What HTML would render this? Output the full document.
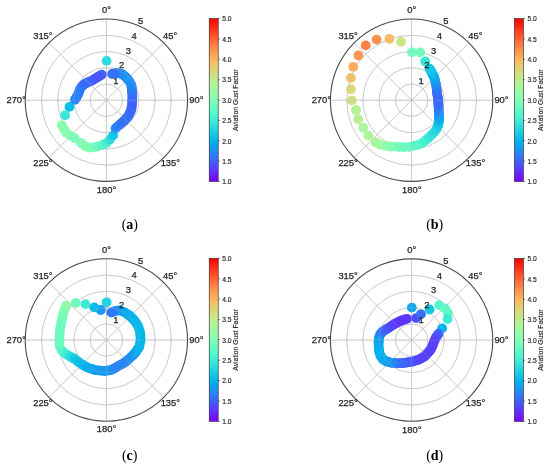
<!DOCTYPE html>
<html><head><meta charset="utf-8"><style>
html,body{margin:0;padding:0;background:#fff;}
text{-webkit-font-smoothing:antialiased;}
svg{display:block;will-change:transform;}
.g{fill:none;stroke:#c8c8c8;stroke-width:0.8;}
.g2{fill:none;stroke:#b8b8b8;stroke-width:0.8;opacity:0.35;}
.o{fill:none;stroke:#4a4a4a;stroke-width:1.1;}
.t{font-family:"Liberation Sans",sans-serif;font-size:9.4px;fill:#222;stroke:#222;stroke-width:0.25;}
.s{font-family:"Liberation Sans",sans-serif;font-size:6.7px;fill:#222;stroke:#222;stroke-width:0.15;}
.lab{font-family:"Liberation Sans",sans-serif;font-size:6.8px;fill:#222;stroke:#222;stroke-width:0.15;}
.cap{font-family:"Liberation Serif",serif;font-size:14px;fill:#000;}
</style></head><body>
<svg width="550" height="467" viewBox="0 0 550 467">
<rect width="550" height="467" fill="#fff"/>
<circle cx="106.4" cy="100.2" r="16.24" class="g"/>
<circle cx="106.4" cy="100.2" r="32.48" class="g"/>
<circle cx="106.4" cy="100.2" r="48.72" class="g"/>
<circle cx="106.4" cy="100.2" r="64.96" class="g"/>
<line x1="106.4" y1="100.2" x2="106.4" y2="19" class="g"/>
<line x1="106.4" y1="100.2" x2="163.82" y2="42.78" class="g"/>
<line x1="106.4" y1="100.2" x2="187.6" y2="100.2" class="g"/>
<line x1="106.4" y1="100.2" x2="163.82" y2="157.62" class="g"/>
<line x1="106.4" y1="100.2" x2="106.4" y2="181.4" class="g"/>
<line x1="106.4" y1="100.2" x2="48.98" y2="157.62" class="g"/>
<line x1="106.4" y1="100.2" x2="25.2" y2="100.2" class="g"/>
<line x1="106.4" y1="100.2" x2="48.98" y2="42.78" class="g"/>
<circle cx="106.6" cy="60.9" r="4.9" fill="#2bdddd"/>
<circle cx="101.8" cy="74.6" r="4.9" fill="#3d66fa"/>
<circle cx="100.37" cy="75.47" r="4.9" fill="#415ffa"/>
<circle cx="98.93" cy="76.33" r="4.9" fill="#455afb"/>
<circle cx="97.5" cy="77.2" r="4.9" fill="#4856fb"/>
<circle cx="95.67" cy="78.33" r="4.9" fill="#4a53fc"/>
<circle cx="93.83" cy="79.47" r="4.9" fill="#4b51fc"/>
<circle cx="92" cy="80.6" r="4.9" fill="#4a52fc"/>
<circle cx="90" cy="81.45" r="4.9" fill="#4659fb"/>
<circle cx="88" cy="82.3" r="4.9" fill="#4062fa"/>
<circle cx="86.15" cy="83.25" r="4.9" fill="#3a6af9"/>
<circle cx="84.3" cy="84.2" r="4.9" fill="#3374f8"/>
<circle cx="82.95" cy="85.4" r="4.9" fill="#3d65fa"/>
<circle cx="81.6" cy="86.6" r="4.9" fill="#386df9"/>
<circle cx="80" cy="89" r="4.9" fill="#3374f8"/>
<circle cx="79.3" cy="91.1" r="4.9" fill="#3077f7"/>
<circle cx="78.6" cy="93.2" r="4.9" fill="#2e7bf7"/>
<circle cx="77.6" cy="95.1" r="4.9" fill="#2b7ef6"/>
<circle cx="76.6" cy="97" r="4.9" fill="#2982f6"/>
<circle cx="75.75" cy="98.4" r="4.9" fill="#2982f6"/>
<circle cx="74.9" cy="99.8" r="4.9" fill="#2982f6"/>
<circle cx="69.5" cy="106.9" r="4.9" fill="#0abfe8"/>
<circle cx="65.1" cy="115.3" r="4.9" fill="#38e7d7"/>
<circle cx="61.8" cy="125.3" r="4.9" fill="#89ffaf"/>
<circle cx="64" cy="129" r="4.9" fill="#89ffaf"/>
<circle cx="66.3" cy="132.7" r="4.9" fill="#8cfead"/>
<circle cx="70.5" cy="135.6" r="4.9" fill="#83ffb3"/>
<circle cx="74.8" cy="138.2" r="4.9" fill="#7bffb7"/>
<circle cx="80.9" cy="143" r="4.9" fill="#7effb5"/>
<circle cx="85" cy="146" r="4.9" fill="#84ffb2"/>
<circle cx="89.1" cy="147.6" r="4.9" fill="#83ffb2"/>
<circle cx="93.5" cy="147.3" r="4.9" fill="#76ffb9"/>
<circle cx="97.8" cy="146.4" r="4.9" fill="#68fcc1"/>
<circle cx="102.2" cy="145" r="4.9" fill="#58f8c9"/>
<circle cx="106.4" cy="143.1" r="4.9" fill="#48f0d1"/>
<circle cx="110" cy="139.5" r="4.9" fill="#2ddedc"/>
<circle cx="113.2" cy="135.4" r="4.9" fill="#10c5e6"/>
<circle cx="115.6" cy="128.2" r="4.9" fill="#228bf4"/>
<circle cx="117.5" cy="126.6" r="4.9" fill="#2882f6"/>
<circle cx="119.4" cy="125" r="4.9" fill="#2d7cf7"/>
<circle cx="121" cy="123.57" r="4.9" fill="#3177f8"/>
<circle cx="122.6" cy="122.13" r="4.9" fill="#3374f8"/>
<circle cx="124.2" cy="120.7" r="4.9" fill="#3472f8"/>
<circle cx="125.5" cy="119.27" r="4.9" fill="#3571f8"/>
<circle cx="126.8" cy="117.83" r="4.9" fill="#3670f8"/>
<circle cx="128.1" cy="116.4" r="4.9" fill="#3572f8"/>
<circle cx="129.07" cy="114.47" r="4.9" fill="#376ef9"/>
<circle cx="130.03" cy="112.53" r="4.9" fill="#386df9"/>
<circle cx="131" cy="110.6" r="4.9" fill="#386df9"/>
<circle cx="131.37" cy="108.37" r="4.9" fill="#3b68f9"/>
<circle cx="131.73" cy="106.13" r="4.9" fill="#3d66fa"/>
<circle cx="132.1" cy="103.9" r="4.9" fill="#3d65fa"/>
<circle cx="132.2" cy="101.6" r="4.9" fill="#3e64fa"/>
<circle cx="132.3" cy="99.3" r="4.9" fill="#3e64fa"/>
<circle cx="132.4" cy="97" r="4.9" fill="#3c68f9"/>
<circle cx="132.3" cy="95" r="4.9" fill="#3a6af9"/>
<circle cx="132.2" cy="93" r="4.9" fill="#376ef9"/>
<circle cx="132.1" cy="91" r="4.9" fill="#3374f8"/>
<circle cx="131.9" cy="89.27" r="4.9" fill="#2f79f7"/>
<circle cx="131.7" cy="87.53" r="4.9" fill="#2b7ff6"/>
<circle cx="131.5" cy="85.8" r="4.9" fill="#2686f5"/>
<circle cx="130.5" cy="83.6" r="4.9" fill="#2389f5"/>
<circle cx="129.5" cy="81.4" r="4.9" fill="#1f8ef4"/>
<circle cx="128.33" cy="80" r="4.9" fill="#1f8ff4"/>
<circle cx="127.17" cy="78.6" r="4.9" fill="#1e90f4"/>
<circle cx="126" cy="77.2" r="4.9" fill="#1c93f3"/>
<circle cx="124.3" cy="75.85" r="4.9" fill="#1c93f3"/>
<circle cx="122.6" cy="74.5" r="4.9" fill="#1b94f3"/>
<circle cx="120.8" cy="73.9" r="4.9" fill="#1e90f4"/>
<circle cx="119" cy="73.3" r="4.9" fill="#208ef4"/>
<circle cx="117.15" cy="73.2" r="4.9" fill="#2587f5"/>
<circle cx="115.3" cy="73.1" r="4.9" fill="#2981f6"/>
<circle cx="113.7" cy="73.55" r="4.9" fill="#3078f7"/>
<circle cx="112.1" cy="74" r="4.9" fill="#376ff9"/>
<circle cx="106.4" cy="100.2" r="16.24" class="g2"/>
<circle cx="106.4" cy="100.2" r="32.48" class="g2"/>
<circle cx="106.4" cy="100.2" r="48.72" class="g2"/>
<circle cx="106.4" cy="100.2" r="64.96" class="g2"/>
<line x1="106.4" y1="100.2" x2="106.4" y2="19" class="g2"/>
<line x1="106.4" y1="100.2" x2="163.82" y2="42.78" class="g2"/>
<line x1="106.4" y1="100.2" x2="187.6" y2="100.2" class="g2"/>
<line x1="106.4" y1="100.2" x2="163.82" y2="157.62" class="g2"/>
<line x1="106.4" y1="100.2" x2="106.4" y2="181.4" class="g2"/>
<line x1="106.4" y1="100.2" x2="48.98" y2="157.62" class="g2"/>
<line x1="106.4" y1="100.2" x2="25.2" y2="100.2" class="g2"/>
<line x1="106.4" y1="100.2" x2="48.98" y2="42.78" class="g2"/>
<circle cx="106.4" cy="100.2" r="81.2" class="o"/>
<text x="106.5" y="12.72" class="t" text-anchor="middle">0°</text>
<text x="170.1" y="39.47" class="t" text-anchor="middle">45°</text>
<text x="196.3" y="102.72" class="t" text-anchor="middle">90°</text>
<text x="170.35" y="166.27" class="t" text-anchor="middle">135°</text>
<text x="106.5" y="192.67" class="t" text-anchor="middle">180°</text>
<text x="42.9" y="166.07" class="t" text-anchor="middle">225°</text>
<text x="16.15" y="102.72" class="t" text-anchor="middle">270°</text>
<text x="42.9" y="39.02" class="t" text-anchor="middle">315°</text>
<text x="115.8" y="83.57" class="t" text-anchor="middle">1</text>
<text x="121.7" y="68.47" class="t" text-anchor="middle">2</text>
<text x="128.3" y="53.57" class="t" text-anchor="middle">3</text>
<text x="134.2" y="38.67" class="t" text-anchor="middle">4</text>
<text x="140.6" y="23.97" class="t" text-anchor="middle">5</text>
<defs><linearGradient id="cba" x1="0" y1="0" x2="0" y2="1"><stop offset="0" stop-color="#ff0000"/><stop offset="0.05" stop-color="#ff2814"/><stop offset="0.1" stop-color="#ff4f28"/><stop offset="0.15" stop-color="#ff743c"/><stop offset="0.2" stop-color="#ff964f"/><stop offset="0.25" stop-color="#ffb462"/><stop offset="0.3" stop-color="#e5ce74"/><stop offset="0.35" stop-color="#cce385"/><stop offset="0.4" stop-color="#b2f396"/><stop offset="0.45" stop-color="#99fca6"/><stop offset="0.5" stop-color="#80ffb4"/><stop offset="0.55" stop-color="#66fcc2"/><stop offset="0.6" stop-color="#4df3ce"/><stop offset="0.65" stop-color="#33e3d9"/><stop offset="0.7" stop-color="#1acee3"/><stop offset="0.75" stop-color="#00b4ec"/><stop offset="0.8" stop-color="#1a96f3"/><stop offset="0.85" stop-color="#3374f8"/><stop offset="0.9" stop-color="#4d4ffc"/><stop offset="0.95" stop-color="#6628fe"/><stop offset="1" stop-color="#8000ff"/></linearGradient></defs>
<rect x="209.2" y="18.6" width="9" height="162.9" fill="url(#cba)" stroke="#222" stroke-width="0.6"/>
<line x1="218.2" y1="181.5" x2="219.8" y2="181.5" stroke="#222" stroke-width="0.6"/>
<text x="222.2" y="184.3" class="s">1.0</text>
<line x1="218.2" y1="161.14" x2="219.8" y2="161.14" stroke="#222" stroke-width="0.6"/>
<text x="222.2" y="163.94" class="s">1.5</text>
<line x1="218.2" y1="140.78" x2="219.8" y2="140.78" stroke="#222" stroke-width="0.6"/>
<text x="222.2" y="143.57" class="s">2.0</text>
<line x1="218.2" y1="120.41" x2="219.8" y2="120.41" stroke="#222" stroke-width="0.6"/>
<text x="222.2" y="123.21" class="s">2.5</text>
<line x1="218.2" y1="100.05" x2="219.8" y2="100.05" stroke="#222" stroke-width="0.6"/>
<text x="222.2" y="102.85" class="s">3.0</text>
<line x1="218.2" y1="79.69" x2="219.8" y2="79.69" stroke="#222" stroke-width="0.6"/>
<text x="222.2" y="82.49" class="s">3.5</text>
<line x1="218.2" y1="59.32" x2="219.8" y2="59.32" stroke="#222" stroke-width="0.6"/>
<text x="222.2" y="62.12" class="s">4.0</text>
<line x1="218.2" y1="38.96" x2="219.8" y2="38.96" stroke="#222" stroke-width="0.6"/>
<text x="222.2" y="41.76" class="s">4.5</text>
<line x1="218.2" y1="18.6" x2="219.8" y2="18.6" stroke="#222" stroke-width="0.6"/>
<text x="222.2" y="21.4" class="s">5.0</text>
<text x="0" y="0" class="lab" text-anchor="middle" transform="translate(237.7,100.2) rotate(-90)">Aviation Gust Factor</text>
<circle cx="411.6" cy="100.2" r="16.24" class="g"/>
<circle cx="411.6" cy="100.2" r="32.48" class="g"/>
<circle cx="411.6" cy="100.2" r="48.72" class="g"/>
<circle cx="411.6" cy="100.2" r="64.96" class="g"/>
<line x1="411.6" y1="100.2" x2="411.6" y2="19" class="g"/>
<line x1="411.6" y1="100.2" x2="469.02" y2="42.78" class="g"/>
<line x1="411.6" y1="100.2" x2="492.8" y2="100.2" class="g"/>
<line x1="411.6" y1="100.2" x2="469.02" y2="157.62" class="g"/>
<line x1="411.6" y1="100.2" x2="411.6" y2="181.4" class="g"/>
<line x1="411.6" y1="100.2" x2="354.18" y2="157.62" class="g"/>
<line x1="411.6" y1="100.2" x2="330.4" y2="100.2" class="g"/>
<line x1="411.6" y1="100.2" x2="354.18" y2="42.78" class="g"/>
<circle cx="401" cy="41.9" r="4.9" fill="#c8e688"/>
<circle cx="389.4" cy="38.8" r="4.9" fill="#f7bd67"/>
<circle cx="376.6" cy="39.6" r="4.9" fill="#ff914c"/>
<circle cx="365.7" cy="45.4" r="4.9" fill="#ff8243"/>
<circle cx="358.4" cy="55.5" r="4.9" fill="#ff964f"/>
<circle cx="353.3" cy="66.8" r="4.9" fill="#ffac5c"/>
<circle cx="350.9" cy="77.9" r="4.9" fill="#f2c26b"/>
<circle cx="350.9" cy="89.2" r="4.9" fill="#dbd77b"/>
<circle cx="351.8" cy="100.4" r="4.9" fill="#cce385"/>
<circle cx="356" cy="110" r="4.9" fill="#b2f396"/>
<circle cx="358.2" cy="119.2" r="4.9" fill="#b4f295"/>
<circle cx="363.3" cy="127.8" r="4.9" fill="#acf69a"/>
<circle cx="368.3" cy="135.6" r="4.9" fill="#aef599"/>
<circle cx="375.5" cy="142.2" r="4.9" fill="#aaf69b"/>
<circle cx="380" cy="144.5" r="4.9" fill="#a2f9a0"/>
<circle cx="385" cy="145.9" r="4.9" fill="#96fda7"/>
<circle cx="390" cy="146.5" r="4.9" fill="#88ffb0"/>
<circle cx="394.6" cy="146.6" r="4.9" fill="#7bffb7"/>
<circle cx="399.5" cy="147" r="4.9" fill="#72febb"/>
<circle cx="404.1" cy="147.2" r="4.9" fill="#6cfdbf"/>
<circle cx="409" cy="146.8" r="4.9" fill="#65fcc2"/>
<circle cx="413.7" cy="145.9" r="4.9" fill="#5efac6"/>
<circle cx="418" cy="144.8" r="4.9" fill="#59f8c9"/>
<circle cx="421.8" cy="143.2" r="4.9" fill="#52f5cc"/>
<circle cx="425.5" cy="140.5" r="4.9" fill="#45efd1"/>
<circle cx="428.7" cy="137.7" r="4.9" fill="#3ae8d6"/>
<circle cx="431.5" cy="135" r="4.9" fill="#32e2da"/>
<circle cx="434.1" cy="132.3" r="4.9" fill="#2bdddd"/>
<circle cx="436.5" cy="129" r="4.9" fill="#22d6e0"/>
<circle cx="438.2" cy="125.5" r="4.9" fill="#17cce4"/>
<circle cx="438.47" cy="123.67" r="4.9" fill="#0fc4e7"/>
<circle cx="438.73" cy="121.83" r="4.9" fill="#07bce9"/>
<circle cx="439" cy="120" r="4.9" fill="#00b5ec"/>
<circle cx="439" cy="117.83" r="4.9" fill="#09aaee"/>
<circle cx="439" cy="115.67" r="4.9" fill="#129ff1"/>
<circle cx="439" cy="113.5" r="4.9" fill="#1a95f3"/>
<circle cx="438.88" cy="111.62" r="4.9" fill="#218cf4"/>
<circle cx="438.75" cy="109.75" r="4.9" fill="#2784f6"/>
<circle cx="438.62" cy="107.88" r="4.9" fill="#2d7df7"/>
<circle cx="438.5" cy="106" r="4.9" fill="#3176f8"/>
<circle cx="438.36" cy="104.2" r="4.9" fill="#3571f8"/>
<circle cx="438.22" cy="102.4" r="4.9" fill="#376df9"/>
<circle cx="438.08" cy="100.6" r="4.9" fill="#396bf9"/>
<circle cx="437.94" cy="98.8" r="4.9" fill="#3a6af9"/>
<circle cx="437.8" cy="97" r="4.9" fill="#3a6af9"/>
<circle cx="437.1" cy="94.3" r="4.9" fill="#3c67f9"/>
<circle cx="436.9" cy="92.15" r="4.9" fill="#396cf9"/>
<circle cx="436.7" cy="90" r="4.9" fill="#3472f8"/>
<circle cx="436.5" cy="87.85" r="4.9" fill="#2f79f7"/>
<circle cx="436.3" cy="85.7" r="4.9" fill="#2882f6"/>
<circle cx="435.77" cy="83.55" r="4.9" fill="#238af5"/>
<circle cx="435.25" cy="81.4" r="4.9" fill="#1c93f3"/>
<circle cx="434.73" cy="79.25" r="4.9" fill="#149df1"/>
<circle cx="434.2" cy="77.1" r="4.9" fill="#0ba7ef"/>
<circle cx="433.28" cy="75.4" r="4.9" fill="#07adee"/>
<circle cx="432.36" cy="73.7" r="4.9" fill="#01b3ec"/>
<circle cx="431.44" cy="72" r="4.9" fill="#06baea"/>
<circle cx="430.52" cy="70.3" r="4.9" fill="#0dc2e8"/>
<circle cx="429.6" cy="68.6" r="4.9" fill="#14c9e5"/>
<circle cx="425.2" cy="61.5" r="4.9" fill="#39e7d7"/>
<circle cx="420.2" cy="52.4" r="4.9" fill="#74febb"/>
<circle cx="412" cy="52.3" r="4.9" fill="#6ffebd"/>
<circle cx="411.6" cy="100.2" r="16.24" class="g2"/>
<circle cx="411.6" cy="100.2" r="32.48" class="g2"/>
<circle cx="411.6" cy="100.2" r="48.72" class="g2"/>
<circle cx="411.6" cy="100.2" r="64.96" class="g2"/>
<line x1="411.6" y1="100.2" x2="411.6" y2="19" class="g2"/>
<line x1="411.6" y1="100.2" x2="469.02" y2="42.78" class="g2"/>
<line x1="411.6" y1="100.2" x2="492.8" y2="100.2" class="g2"/>
<line x1="411.6" y1="100.2" x2="469.02" y2="157.62" class="g2"/>
<line x1="411.6" y1="100.2" x2="411.6" y2="181.4" class="g2"/>
<line x1="411.6" y1="100.2" x2="354.18" y2="157.62" class="g2"/>
<line x1="411.6" y1="100.2" x2="330.4" y2="100.2" class="g2"/>
<line x1="411.6" y1="100.2" x2="354.18" y2="42.78" class="g2"/>
<circle cx="411.6" cy="100.2" r="81.2" class="o"/>
<text x="411.7" y="12.72" class="t" text-anchor="middle">0°</text>
<text x="475.3" y="39.47" class="t" text-anchor="middle">45°</text>
<text x="501.5" y="102.72" class="t" text-anchor="middle">90°</text>
<text x="475.55" y="166.27" class="t" text-anchor="middle">135°</text>
<text x="411.7" y="192.67" class="t" text-anchor="middle">180°</text>
<text x="348.1" y="166.07" class="t" text-anchor="middle">225°</text>
<text x="321.35" y="102.72" class="t" text-anchor="middle">270°</text>
<text x="348.1" y="39.02" class="t" text-anchor="middle">315°</text>
<text x="421" y="83.57" class="t" text-anchor="middle">1</text>
<text x="426.9" y="68.47" class="t" text-anchor="middle">2</text>
<text x="433.5" y="53.57" class="t" text-anchor="middle">3</text>
<text x="439.4" y="38.67" class="t" text-anchor="middle">4</text>
<text x="445.8" y="23.97" class="t" text-anchor="middle">5</text>
<defs><linearGradient id="cbb" x1="0" y1="0" x2="0" y2="1"><stop offset="0" stop-color="#ff0000"/><stop offset="0.05" stop-color="#ff2814"/><stop offset="0.1" stop-color="#ff4f28"/><stop offset="0.15" stop-color="#ff743c"/><stop offset="0.2" stop-color="#ff964f"/><stop offset="0.25" stop-color="#ffb462"/><stop offset="0.3" stop-color="#e5ce74"/><stop offset="0.35" stop-color="#cce385"/><stop offset="0.4" stop-color="#b2f396"/><stop offset="0.45" stop-color="#99fca6"/><stop offset="0.5" stop-color="#80ffb4"/><stop offset="0.55" stop-color="#66fcc2"/><stop offset="0.6" stop-color="#4df3ce"/><stop offset="0.65" stop-color="#33e3d9"/><stop offset="0.7" stop-color="#1acee3"/><stop offset="0.75" stop-color="#00b4ec"/><stop offset="0.8" stop-color="#1a96f3"/><stop offset="0.85" stop-color="#3374f8"/><stop offset="0.9" stop-color="#4d4ffc"/><stop offset="0.95" stop-color="#6628fe"/><stop offset="1" stop-color="#8000ff"/></linearGradient></defs>
<rect x="514.4" y="18.6" width="9" height="162.9" fill="url(#cbb)" stroke="#222" stroke-width="0.6"/>
<line x1="523.4" y1="181.5" x2="525" y2="181.5" stroke="#222" stroke-width="0.6"/>
<text x="527.4" y="184.3" class="s">1.0</text>
<line x1="523.4" y1="161.14" x2="525" y2="161.14" stroke="#222" stroke-width="0.6"/>
<text x="527.4" y="163.94" class="s">1.5</text>
<line x1="523.4" y1="140.78" x2="525" y2="140.78" stroke="#222" stroke-width="0.6"/>
<text x="527.4" y="143.57" class="s">2.0</text>
<line x1="523.4" y1="120.41" x2="525" y2="120.41" stroke="#222" stroke-width="0.6"/>
<text x="527.4" y="123.21" class="s">2.5</text>
<line x1="523.4" y1="100.05" x2="525" y2="100.05" stroke="#222" stroke-width="0.6"/>
<text x="527.4" y="102.85" class="s">3.0</text>
<line x1="523.4" y1="79.69" x2="525" y2="79.69" stroke="#222" stroke-width="0.6"/>
<text x="527.4" y="82.49" class="s">3.5</text>
<line x1="523.4" y1="59.32" x2="525" y2="59.32" stroke="#222" stroke-width="0.6"/>
<text x="527.4" y="62.12" class="s">4.0</text>
<line x1="523.4" y1="38.96" x2="525" y2="38.96" stroke="#222" stroke-width="0.6"/>
<text x="527.4" y="41.76" class="s">4.5</text>
<line x1="523.4" y1="18.6" x2="525" y2="18.6" stroke="#222" stroke-width="0.6"/>
<text x="527.4" y="21.4" class="s">5.0</text>
<text x="0" y="0" class="lab" text-anchor="middle" transform="translate(542.9,100.2) rotate(-90)">Aviation Gust Factor</text>
<circle cx="106.4" cy="340" r="16.24" class="g"/>
<circle cx="106.4" cy="340" r="32.48" class="g"/>
<circle cx="106.4" cy="340" r="48.72" class="g"/>
<circle cx="106.4" cy="340" r="64.96" class="g"/>
<line x1="106.4" y1="340" x2="106.4" y2="258.8" class="g"/>
<line x1="106.4" y1="340" x2="163.82" y2="282.58" class="g"/>
<line x1="106.4" y1="340" x2="187.6" y2="340" class="g"/>
<line x1="106.4" y1="340" x2="163.82" y2="397.42" class="g"/>
<line x1="106.4" y1="340" x2="106.4" y2="421.2" class="g"/>
<line x1="106.4" y1="340" x2="48.98" y2="397.42" class="g"/>
<line x1="106.4" y1="340" x2="25.2" y2="340" class="g"/>
<line x1="106.4" y1="340" x2="48.98" y2="282.58" class="g"/>
<circle cx="106.6" cy="302.3" r="4.9" fill="#1fd3e1"/>
<circle cx="100.8" cy="310" r="4.9" fill="#1a96f3"/>
<circle cx="94.3" cy="307.4" r="4.9" fill="#08bde9"/>
<circle cx="85.5" cy="304.1" r="4.9" fill="#3dead5"/>
<circle cx="75.7" cy="303" r="4.9" fill="#70febd"/>
<circle cx="66.1" cy="305.6" r="4.9" fill="#97fca7"/>
<circle cx="64.75" cy="309.3" r="4.9" fill="#8dfead"/>
<circle cx="63.4" cy="313" r="4.9" fill="#85ffb1"/>
<circle cx="62.73" cy="316" r="4.9" fill="#7effb5"/>
<circle cx="62.07" cy="319" r="4.9" fill="#78ffb8"/>
<circle cx="61.4" cy="322" r="4.9" fill="#73febb"/>
<circle cx="60.9" cy="324.93" r="4.9" fill="#6ffebd"/>
<circle cx="60.4" cy="327.87" r="4.9" fill="#6cfdbf"/>
<circle cx="59.9" cy="330.8" r="4.9" fill="#6bfdbf"/>
<circle cx="59.65" cy="334.7" r="4.9" fill="#68fcc1"/>
<circle cx="59.4" cy="338.6" r="4.9" fill="#68fcc1"/>
<circle cx="59.5" cy="342.3" r="4.9" fill="#67fcc1"/>
<circle cx="59.6" cy="346" r="4.9" fill="#69fdc0"/>
<circle cx="61.6" cy="350.5" r="4.9" fill="#60fac5"/>
<circle cx="63.9" cy="352.45" r="4.9" fill="#52f5cb"/>
<circle cx="66.2" cy="354.4" r="4.9" fill="#46efd1"/>
<circle cx="66.2" cy="354.4" r="4.9" fill="#46efd1"/>
<circle cx="68.38" cy="355.57" r="4.9" fill="#39e8d7"/>
<circle cx="70.55" cy="356.75" r="4.9" fill="#2ddfdc"/>
<circle cx="72.73" cy="357.93" r="4.9" fill="#22d6e0"/>
<circle cx="74.9" cy="359.1" r="4.9" fill="#18cde4"/>
<circle cx="76.73" cy="360.53" r="4.9" fill="#12c7e6"/>
<circle cx="78.57" cy="361.97" r="4.9" fill="#0dc2e7"/>
<circle cx="80.4" cy="363.4" r="4.9" fill="#09bee9"/>
<circle cx="82.57" cy="364.73" r="4.9" fill="#04b9ea"/>
<circle cx="84.73" cy="366.07" r="4.9" fill="#01b5eb"/>
<circle cx="86.9" cy="367.4" r="4.9" fill="#01b3ec"/>
<circle cx="89.08" cy="368.1" r="4.9" fill="#06aded"/>
<circle cx="91.25" cy="368.8" r="4.9" fill="#0aa9ee"/>
<circle cx="93.42" cy="369.5" r="4.9" fill="#0ca6ef"/>
<circle cx="95.6" cy="370.2" r="4.9" fill="#0da5ef"/>
<circle cx="98.5" cy="370.47" r="4.9" fill="#129ff1"/>
<circle cx="101.4" cy="370.73" r="4.9" fill="#159cf1"/>
<circle cx="104.3" cy="371" r="4.9" fill="#159bf1"/>
<circle cx="106.5" cy="370.73" r="4.9" fill="#1898f2"/>
<circle cx="108.7" cy="370.47" r="4.9" fill="#1996f2"/>
<circle cx="110.9" cy="370.2" r="4.9" fill="#1996f3"/>
<circle cx="113.17" cy="368.93" r="4.9" fill="#208ef4"/>
<circle cx="115.43" cy="367.67" r="4.9" fill="#2587f5"/>
<circle cx="117.7" cy="366.4" r="4.9" fill="#2883f6"/>
<circle cx="119.67" cy="365.37" r="4.9" fill="#2882f6"/>
<circle cx="121.63" cy="364.33" r="4.9" fill="#2883f6"/>
<circle cx="123.6" cy="363.3" r="4.9" fill="#2686f5"/>
<circle cx="125.53" cy="361.73" r="4.9" fill="#2686f5"/>
<circle cx="127.47" cy="360.17" r="4.9" fill="#2488f5"/>
<circle cx="129.4" cy="358.6" r="4.9" fill="#218cf4"/>
<circle cx="131.37" cy="356.63" r="4.9" fill="#1e91f4"/>
<circle cx="133.33" cy="354.67" r="4.9" fill="#1897f2"/>
<circle cx="135.3" cy="352.7" r="4.9" fill="#11a0f0"/>
<circle cx="136.63" cy="350.73" r="4.9" fill="#0da5ef"/>
<circle cx="137.97" cy="348.77" r="4.9" fill="#08abee"/>
<circle cx="139.3" cy="346.8" r="4.9" fill="#01b3ec"/>
<circle cx="139.9" cy="343.85" r="4.9" fill="#00b4ec"/>
<circle cx="140.5" cy="340.9" r="4.9" fill="#03b7eb"/>
<circle cx="140.5" cy="338.45" r="4.9" fill="#03b7eb"/>
<circle cx="140.5" cy="336" r="4.9" fill="#04b9ea"/>
<circle cx="140.15" cy="333.5" r="4.9" fill="#05b9ea"/>
<circle cx="139.8" cy="331" r="4.9" fill="#06bbea"/>
<circle cx="138.8" cy="328.25" r="4.9" fill="#05baea"/>
<circle cx="137.8" cy="325.5" r="4.9" fill="#06bbea"/>
<circle cx="136.15" cy="323" r="4.9" fill="#04b8ea"/>
<circle cx="134.5" cy="320.5" r="4.9" fill="#03b8eb"/>
<circle cx="133" cy="319" r="4.9" fill="#01b5eb"/>
<circle cx="131.5" cy="317.5" r="4.9" fill="#01b4ec"/>
<circle cx="130" cy="316" r="4.9" fill="#01b3ec"/>
<circle cx="128.23" cy="314.8" r="4.9" fill="#03b0ed"/>
<circle cx="126.47" cy="313.6" r="4.9" fill="#05afed"/>
<circle cx="124.7" cy="312.4" r="4.9" fill="#05aeed"/>
<circle cx="122.05" cy="311.4" r="4.9" fill="#09aaee"/>
<circle cx="119.4" cy="310.4" r="4.9" fill="#0ba7ef"/>
<circle cx="117.35" cy="310.7" r="4.9" fill="#149df1"/>
<circle cx="115.3" cy="311" r="4.9" fill="#1b94f3"/>
<circle cx="113.25" cy="311.8" r="4.9" fill="#2586f5"/>
<circle cx="111.2" cy="312.6" r="4.9" fill="#2f7af7"/>
<circle cx="106.4" cy="340" r="16.24" class="g2"/>
<circle cx="106.4" cy="340" r="32.48" class="g2"/>
<circle cx="106.4" cy="340" r="48.72" class="g2"/>
<circle cx="106.4" cy="340" r="64.96" class="g2"/>
<line x1="106.4" y1="340" x2="106.4" y2="258.8" class="g2"/>
<line x1="106.4" y1="340" x2="163.82" y2="282.58" class="g2"/>
<line x1="106.4" y1="340" x2="187.6" y2="340" class="g2"/>
<line x1="106.4" y1="340" x2="163.82" y2="397.42" class="g2"/>
<line x1="106.4" y1="340" x2="106.4" y2="421.2" class="g2"/>
<line x1="106.4" y1="340" x2="48.98" y2="397.42" class="g2"/>
<line x1="106.4" y1="340" x2="25.2" y2="340" class="g2"/>
<line x1="106.4" y1="340" x2="48.98" y2="282.58" class="g2"/>
<circle cx="106.4" cy="340" r="81.2" class="o"/>
<text x="106.5" y="252.52" class="t" text-anchor="middle">0°</text>
<text x="170.1" y="279.27" class="t" text-anchor="middle">45°</text>
<text x="196.3" y="342.52" class="t" text-anchor="middle">90°</text>
<text x="170.35" y="406.07" class="t" text-anchor="middle">135°</text>
<text x="106.5" y="432.47" class="t" text-anchor="middle">180°</text>
<text x="42.9" y="405.87" class="t" text-anchor="middle">225°</text>
<text x="16.15" y="342.52" class="t" text-anchor="middle">270°</text>
<text x="42.9" y="278.82" class="t" text-anchor="middle">315°</text>
<text x="115.8" y="323.37" class="t" text-anchor="middle">1</text>
<text x="121.7" y="308.27" class="t" text-anchor="middle">2</text>
<text x="128.3" y="293.37" class="t" text-anchor="middle">3</text>
<text x="134.2" y="278.47" class="t" text-anchor="middle">4</text>
<text x="140.6" y="263.77" class="t" text-anchor="middle">5</text>
<defs><linearGradient id="cbc" x1="0" y1="0" x2="0" y2="1"><stop offset="0" stop-color="#ff0000"/><stop offset="0.05" stop-color="#ff2814"/><stop offset="0.1" stop-color="#ff4f28"/><stop offset="0.15" stop-color="#ff743c"/><stop offset="0.2" stop-color="#ff964f"/><stop offset="0.25" stop-color="#ffb462"/><stop offset="0.3" stop-color="#e5ce74"/><stop offset="0.35" stop-color="#cce385"/><stop offset="0.4" stop-color="#b2f396"/><stop offset="0.45" stop-color="#99fca6"/><stop offset="0.5" stop-color="#80ffb4"/><stop offset="0.55" stop-color="#66fcc2"/><stop offset="0.6" stop-color="#4df3ce"/><stop offset="0.65" stop-color="#33e3d9"/><stop offset="0.7" stop-color="#1acee3"/><stop offset="0.75" stop-color="#00b4ec"/><stop offset="0.8" stop-color="#1a96f3"/><stop offset="0.85" stop-color="#3374f8"/><stop offset="0.9" stop-color="#4d4ffc"/><stop offset="0.95" stop-color="#6628fe"/><stop offset="1" stop-color="#8000ff"/></linearGradient></defs>
<rect x="209.2" y="258.4" width="9" height="162.9" fill="url(#cbc)" stroke="#222" stroke-width="0.6"/>
<line x1="218.2" y1="421.3" x2="219.8" y2="421.3" stroke="#222" stroke-width="0.6"/>
<text x="222.2" y="424.1" class="s">1.0</text>
<line x1="218.2" y1="400.94" x2="219.8" y2="400.94" stroke="#222" stroke-width="0.6"/>
<text x="222.2" y="403.74" class="s">1.5</text>
<line x1="218.2" y1="380.58" x2="219.8" y2="380.58" stroke="#222" stroke-width="0.6"/>
<text x="222.2" y="383.37" class="s">2.0</text>
<line x1="218.2" y1="360.21" x2="219.8" y2="360.21" stroke="#222" stroke-width="0.6"/>
<text x="222.2" y="363.01" class="s">2.5</text>
<line x1="218.2" y1="339.85" x2="219.8" y2="339.85" stroke="#222" stroke-width="0.6"/>
<text x="222.2" y="342.65" class="s">3.0</text>
<line x1="218.2" y1="319.49" x2="219.8" y2="319.49" stroke="#222" stroke-width="0.6"/>
<text x="222.2" y="322.29" class="s">3.5</text>
<line x1="218.2" y1="299.12" x2="219.8" y2="299.12" stroke="#222" stroke-width="0.6"/>
<text x="222.2" y="301.92" class="s">4.0</text>
<line x1="218.2" y1="278.76" x2="219.8" y2="278.76" stroke="#222" stroke-width="0.6"/>
<text x="222.2" y="281.56" class="s">4.5</text>
<line x1="218.2" y1="258.4" x2="219.8" y2="258.4" stroke="#222" stroke-width="0.6"/>
<text x="222.2" y="261.2" class="s">5.0</text>
<text x="0" y="0" class="lab" text-anchor="middle" transform="translate(237.7,340) rotate(-90)">Aviation Gust Factor</text>
<circle cx="411.6" cy="340.1" r="16.24" class="g"/>
<circle cx="411.6" cy="340.1" r="32.48" class="g"/>
<circle cx="411.6" cy="340.1" r="48.72" class="g"/>
<circle cx="411.6" cy="340.1" r="64.96" class="g"/>
<line x1="411.6" y1="340.1" x2="411.6" y2="258.9" class="g"/>
<line x1="411.6" y1="340.1" x2="469.02" y2="282.68" class="g"/>
<line x1="411.6" y1="340.1" x2="492.8" y2="340.1" class="g"/>
<line x1="411.6" y1="340.1" x2="469.02" y2="397.52" class="g"/>
<line x1="411.6" y1="340.1" x2="411.6" y2="421.3" class="g"/>
<line x1="411.6" y1="340.1" x2="354.18" y2="397.52" class="g"/>
<line x1="411.6" y1="340.1" x2="330.4" y2="340.1" class="g"/>
<line x1="411.6" y1="340.1" x2="354.18" y2="282.68" class="g"/>
<circle cx="411.8" cy="307.6" r="4.9" fill="#0aa9ef"/>
<circle cx="378.6" cy="341.5" r="4.9" fill="#0fa3f0"/>
<circle cx="378.75" cy="339.75" r="4.9" fill="#149cf1"/>
<circle cx="378.9" cy="338" r="4.9" fill="#1996f3"/>
<circle cx="379.45" cy="336.35" r="4.9" fill="#1f8ff4"/>
<circle cx="380" cy="334.7" r="4.9" fill="#2489f5"/>
<circle cx="381" cy="333.35" r="4.9" fill="#2982f6"/>
<circle cx="382" cy="332" r="4.9" fill="#2e7bf7"/>
<circle cx="383.25" cy="331.15" r="4.9" fill="#3374f8"/>
<circle cx="384.5" cy="330.3" r="4.9" fill="#386df9"/>
<circle cx="386" cy="329.45" r="4.9" fill="#3d65fa"/>
<circle cx="387.5" cy="328.6" r="4.9" fill="#425efa"/>
<circle cx="389.25" cy="327.45" r="4.9" fill="#4756fb"/>
<circle cx="391" cy="326.3" r="4.9" fill="#4c4ffc"/>
<circle cx="393" cy="325" r="4.9" fill="#5247fc"/>
<circle cx="395" cy="323.7" r="4.9" fill="#573ffd"/>
<circle cx="396.95" cy="322.7" r="4.9" fill="#593cfd"/>
<circle cx="398.9" cy="321.7" r="4.9" fill="#5c38fd"/>
<circle cx="400.7" cy="320.95" r="4.9" fill="#5e34fe"/>
<circle cx="402.5" cy="320.2" r="4.9" fill="#6130fe"/>
<circle cx="404.75" cy="319.5" r="4.9" fill="#5e34fe"/>
<circle cx="407" cy="318.8" r="4.9" fill="#5c38fd"/>
<circle cx="416.1" cy="318.1" r="4.9" fill="#4c4ffc"/>
<circle cx="420.9" cy="314.3" r="4.9" fill="#386df9"/>
<circle cx="429.6" cy="309.5" r="4.9" fill="#14c9e5"/>
<circle cx="439.2" cy="305.1" r="4.9" fill="#55f6ca"/>
<circle cx="445" cy="308.5" r="4.9" fill="#60fac5"/>
<circle cx="448" cy="313" r="4.9" fill="#5bf9c7"/>
<circle cx="447.6" cy="319" r="4.9" fill="#3eebd5"/>
<circle cx="442.1" cy="328.3" r="4.9" fill="#00b4ec"/>
<circle cx="438.6" cy="333.6" r="4.9" fill="#386df9"/>
<circle cx="437.6" cy="335.07" r="4.9" fill="#3f63fa"/>
<circle cx="436.6" cy="336.53" r="4.9" fill="#4659fb"/>
<circle cx="435.6" cy="338" r="4.9" fill="#4c4ffc"/>
<circle cx="434.8" cy="339.9" r="4.9" fill="#5247fc"/>
<circle cx="434" cy="341.8" r="4.9" fill="#573ffd"/>
<circle cx="433.25" cy="343.9" r="4.9" fill="#573ffd"/>
<circle cx="432.5" cy="346" r="4.9" fill="#573ffd"/>
<circle cx="431.5" cy="348" r="4.9" fill="#573ffd"/>
<circle cx="430.5" cy="350" r="4.9" fill="#573ffd"/>
<circle cx="429.33" cy="351.27" r="4.9" fill="#573ffd"/>
<circle cx="428.17" cy="352.53" r="4.9" fill="#573ffd"/>
<circle cx="427" cy="353.8" r="4.9" fill="#573ffd"/>
<circle cx="425.8" cy="355.15" r="4.9" fill="#573ffd"/>
<circle cx="424.6" cy="356.5" r="4.9" fill="#573ffd"/>
<circle cx="422.73" cy="357.5" r="4.9" fill="#573ffd"/>
<circle cx="420.87" cy="358.5" r="4.9" fill="#573ffd"/>
<circle cx="419" cy="359.5" r="4.9" fill="#573ffd"/>
<circle cx="417" cy="360.17" r="4.9" fill="#5542fd"/>
<circle cx="415" cy="360.83" r="4.9" fill="#5345fd"/>
<circle cx="413" cy="361.5" r="4.9" fill="#5247fc"/>
<circle cx="411.2" cy="361.8" r="4.9" fill="#4f4cfc"/>
<circle cx="409.4" cy="362.1" r="4.9" fill="#4b50fc"/>
<circle cx="407.6" cy="362.4" r="4.9" fill="#4855fb"/>
<circle cx="405.8" cy="362.7" r="4.9" fill="#4559fb"/>
<circle cx="404" cy="363" r="4.9" fill="#425efa"/>
<circle cx="401.77" cy="363.1" r="4.9" fill="#3f63fa"/>
<circle cx="399.53" cy="363.2" r="4.9" fill="#3c68f9"/>
<circle cx="397.3" cy="363.3" r="4.9" fill="#386df9"/>
<circle cx="395.37" cy="363.13" r="4.9" fill="#3374f8"/>
<circle cx="393.43" cy="362.97" r="4.9" fill="#2e7bf7"/>
<circle cx="391.5" cy="362.8" r="4.9" fill="#2982f6"/>
<circle cx="389.83" cy="362.37" r="4.9" fill="#2489f5"/>
<circle cx="388.17" cy="361.93" r="4.9" fill="#1f8ff4"/>
<circle cx="386.5" cy="361.5" r="4.9" fill="#1996f3"/>
<circle cx="384.75" cy="360.5" r="4.9" fill="#149cf1"/>
<circle cx="383" cy="359.5" r="4.9" fill="#0fa3f0"/>
<circle cx="381.8" cy="357.75" r="4.9" fill="#0aa9ef"/>
<circle cx="380.6" cy="356" r="4.9" fill="#05afed"/>
<circle cx="379.9" cy="354" r="4.9" fill="#03b1ec"/>
<circle cx="379.2" cy="352" r="4.9" fill="#00b4ec"/>
<circle cx="379" cy="350" r="4.9" fill="#00b4ec"/>
<circle cx="378.8" cy="348" r="4.9" fill="#00b4ec"/>
<circle cx="378.6" cy="346" r="4.9" fill="#00b4ec"/>
<circle cx="378.6" cy="343.75" r="4.9" fill="#08acee"/>
<circle cx="378.6" cy="341.5" r="4.9" fill="#0fa3f0"/>
<circle cx="411.6" cy="340.1" r="16.24" class="g2"/>
<circle cx="411.6" cy="340.1" r="32.48" class="g2"/>
<circle cx="411.6" cy="340.1" r="48.72" class="g2"/>
<circle cx="411.6" cy="340.1" r="64.96" class="g2"/>
<line x1="411.6" y1="340.1" x2="411.6" y2="258.9" class="g2"/>
<line x1="411.6" y1="340.1" x2="469.02" y2="282.68" class="g2"/>
<line x1="411.6" y1="340.1" x2="492.8" y2="340.1" class="g2"/>
<line x1="411.6" y1="340.1" x2="469.02" y2="397.52" class="g2"/>
<line x1="411.6" y1="340.1" x2="411.6" y2="421.3" class="g2"/>
<line x1="411.6" y1="340.1" x2="354.18" y2="397.52" class="g2"/>
<line x1="411.6" y1="340.1" x2="330.4" y2="340.1" class="g2"/>
<line x1="411.6" y1="340.1" x2="354.18" y2="282.68" class="g2"/>
<circle cx="411.6" cy="340.1" r="81.2" class="o"/>
<text x="411.7" y="252.62" class="t" text-anchor="middle">0°</text>
<text x="475.3" y="279.37" class="t" text-anchor="middle">45°</text>
<text x="501.5" y="342.62" class="t" text-anchor="middle">90°</text>
<text x="475.55" y="406.17" class="t" text-anchor="middle">135°</text>
<text x="411.7" y="432.57" class="t" text-anchor="middle">180°</text>
<text x="348.1" y="405.97" class="t" text-anchor="middle">225°</text>
<text x="321.35" y="342.62" class="t" text-anchor="middle">270°</text>
<text x="348.1" y="278.92" class="t" text-anchor="middle">315°</text>
<text x="421" y="323.47" class="t" text-anchor="middle">1</text>
<text x="426.9" y="308.37" class="t" text-anchor="middle">2</text>
<text x="433.5" y="293.47" class="t" text-anchor="middle">3</text>
<text x="439.4" y="278.57" class="t" text-anchor="middle">4</text>
<text x="445.8" y="263.87" class="t" text-anchor="middle">5</text>
<defs><linearGradient id="cbd" x1="0" y1="0" x2="0" y2="1"><stop offset="0" stop-color="#ff0000"/><stop offset="0.05" stop-color="#ff2814"/><stop offset="0.1" stop-color="#ff4f28"/><stop offset="0.15" stop-color="#ff743c"/><stop offset="0.2" stop-color="#ff964f"/><stop offset="0.25" stop-color="#ffb462"/><stop offset="0.3" stop-color="#e5ce74"/><stop offset="0.35" stop-color="#cce385"/><stop offset="0.4" stop-color="#b2f396"/><stop offset="0.45" stop-color="#99fca6"/><stop offset="0.5" stop-color="#80ffb4"/><stop offset="0.55" stop-color="#66fcc2"/><stop offset="0.6" stop-color="#4df3ce"/><stop offset="0.65" stop-color="#33e3d9"/><stop offset="0.7" stop-color="#1acee3"/><stop offset="0.75" stop-color="#00b4ec"/><stop offset="0.8" stop-color="#1a96f3"/><stop offset="0.85" stop-color="#3374f8"/><stop offset="0.9" stop-color="#4d4ffc"/><stop offset="0.95" stop-color="#6628fe"/><stop offset="1" stop-color="#8000ff"/></linearGradient></defs>
<rect x="514.4" y="258.5" width="9" height="162.9" fill="url(#cbd)" stroke="#222" stroke-width="0.6"/>
<line x1="523.4" y1="421.4" x2="525" y2="421.4" stroke="#222" stroke-width="0.6"/>
<text x="527.4" y="424.2" class="s">1.0</text>
<line x1="523.4" y1="401.04" x2="525" y2="401.04" stroke="#222" stroke-width="0.6"/>
<text x="527.4" y="403.84" class="s">1.5</text>
<line x1="523.4" y1="380.68" x2="525" y2="380.68" stroke="#222" stroke-width="0.6"/>
<text x="527.4" y="383.47" class="s">2.0</text>
<line x1="523.4" y1="360.31" x2="525" y2="360.31" stroke="#222" stroke-width="0.6"/>
<text x="527.4" y="363.11" class="s">2.5</text>
<line x1="523.4" y1="339.95" x2="525" y2="339.95" stroke="#222" stroke-width="0.6"/>
<text x="527.4" y="342.75" class="s">3.0</text>
<line x1="523.4" y1="319.59" x2="525" y2="319.59" stroke="#222" stroke-width="0.6"/>
<text x="527.4" y="322.39" class="s">3.5</text>
<line x1="523.4" y1="299.23" x2="525" y2="299.23" stroke="#222" stroke-width="0.6"/>
<text x="527.4" y="302.02" class="s">4.0</text>
<line x1="523.4" y1="278.86" x2="525" y2="278.86" stroke="#222" stroke-width="0.6"/>
<text x="527.4" y="281.66" class="s">4.5</text>
<line x1="523.4" y1="258.5" x2="525" y2="258.5" stroke="#222" stroke-width="0.6"/>
<text x="527.4" y="261.3" class="s">5.0</text>
<text x="0" y="0" class="lab" text-anchor="middle" transform="translate(542.9,340.1) rotate(-90)">Aviation Gust Factor</text>
<text x="129.8" y="228.6" class="cap" text-anchor="middle">(<tspan font-weight="bold">a</tspan>)</text>
<text x="434.7" y="228.6" class="cap" text-anchor="middle">(<tspan font-weight="bold">b</tspan>)</text>
<text x="129.7" y="459.6" class="cap" text-anchor="middle">(<tspan font-weight="bold">c</tspan>)</text>
<text x="434.7" y="459.6" class="cap" text-anchor="middle">(<tspan font-weight="bold">d</tspan>)</text>
</svg>
</body></html>
